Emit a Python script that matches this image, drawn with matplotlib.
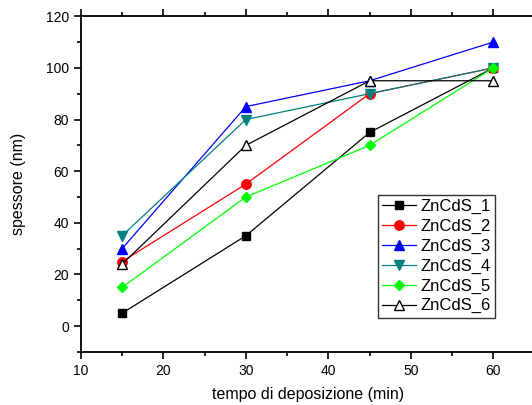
import matplotlib.pyplot as plt
from matplotlib.ticker import MultipleLocator

plt.rcParams['font.family'] = ['Liberation Sans', 'DejaVu Sans']

tempo = [15, 30, 45, 60]
zncds_1 = [5, 35, 75, 100]
zncds_2 = [25, 55, 90, 100]
zncds_3 = [30, 85, 95, 110]
zncds_4 = [35, 80, 90, 100]
zncds_5 = [15, 50, 70, 100]
zncds_6 = [24, 70, 95, 95]
labels = ["ZnCdS_1", "ZnCdS_2", "ZnCdS_3", "ZnCdS_4", "ZnCdS_5", "ZnCdS_6"]

styles = [
    dict(color="black", marker="s", mfc="black", ms=5.8),
    dict(color="red", marker="o", mfc="red"),
    dict(color="blue", marker="^", mfc="blue"),
    dict(color="#008080", marker="v", mfc="#008080"),
    dict(color="#00FF00", marker="D", mfc="#00FF00", ms=5.5),
    dict(color="black", marker="^", mfc="white"),
]

fig = plt.figure(figsize=(5.32, 4.05), dpi=100)
ax = fig.add_axes([0.152, 0.131, 0.853, 0.829])

for y, lab, st in zip([zncds_1, zncds_2, zncds_3, zncds_4, zncds_5, zncds_6], labels, styles):
    kw = dict(lw=0.9, ms=6.8, mec=st["color"])
    kw.update(st)
    ax.plot(tempo, y, label=lab, **kw)

ax.set_xlim(10, 65)
ax.set_ylim(-10, 120)
ax.xaxis.set_major_locator(MultipleLocator(10))
ax.xaxis.set_minor_locator(MultipleLocator(5))
ax.yaxis.set_major_locator(MultipleLocator(20))
ax.yaxis.set_minor_locator(MultipleLocator(10))
ax.tick_params(which="both", direction="out", top=True, right=False, labelsize=10, width=1.2)
ax.tick_params(which="major", length=5)
ax.tick_params(which="minor", length=3)
for s in ["left", "bottom", "top"]:
    ax.spines[s].set_linewidth(1.3)
ax.spines["right"].set_visible(False)

ax.set_xlabel("tempo di deposizione (min)", fontsize=11.5, labelpad=7)
ax.set_ylabel("spessore (nm)", fontsize=11.5, labelpad=14)

leg = ax.legend(loc="upper left", bbox_to_anchor=(0.655, 0.467), fontsize=12, frameon=True,
                fancybox=False, edgecolor="black", borderpad=0.25, labelspacing=0.28,
                handlelength=2.0, handletextpad=0.3, borderaxespad=0)
leg.get_frame().set_linewidth(1.0)

fig.savefig("out.png", dpi=100)
